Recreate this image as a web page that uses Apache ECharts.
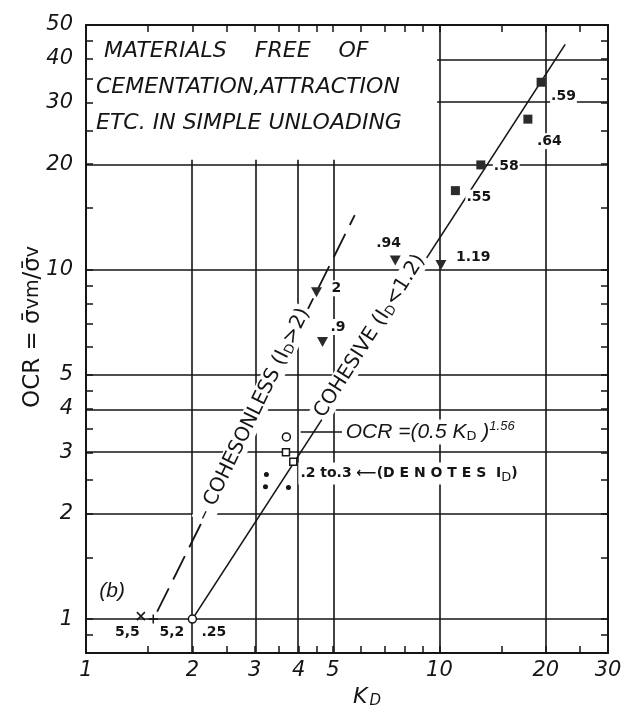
<!DOCTYPE html>
<html><head><meta charset="utf-8">
<script src="https://cdn.jsdelivr.net/npm/echarts@6/dist/echarts.min.js"></script>
<style>html,body{margin:0;padding:0;background:#fff}#c{width:625px;height:705px}</style>
</head><body><div id="c"></div>
<script>
// ---- values (log-log chart) ----
const xTickLabels = [1, 2, 3, 4, 5, 10, 20, 30];
const yTickLabels = [1, 2, 3, 4, 5, 10, 20, 30, 40, 50];
const xTicks = [1.5, 2, 2.5, 3, 3.5, 4, 4.5, 5, 6, 7, 8, 9, 10, 15, 20, 25];
const yTicks = [0.9, 1, 1.5, 2, 2.5, 3, 3.5, 4, 4.5, 5, 6, 7, 8, 9, 10, 15, 20, 25, 30, 35, 40, 45];
const xGridValues = [2, 3, 4, 5, 10, 20];
const yGridValues = [1, 2, 3, 4, 5, 10, 20, 30, 40];

const squareKd = [11.1, 13.1, 17.8, 19.4];
const squareOcr = [16.8, 19.9, 26.9, 34.3];
const squareLabels = ['.55', '.58', '.64', '.59'];

const triangleKd = [4.49, 4.67, 7.5, 10.1];
const triangleOcr = [8.6, 6.2, 10.6, 10.3];
const triangleLabels = ['2', '.9', '.94', '1.19'];

const openCircleKd = [2, 3.69];
const openCircleOcr = [1, 3.32];
const openSquareKd = [3.68, 3.86];
const openSquareOcr = [3.0, 2.82];
const dotKd = [3.24, 3.22, 3.74];
const dotOcr = [2.59, 2.39, 2.38];
const crossKd = [1.43];
const crossOcr = [1.02];
const plusKd = [1.55];
const plusOcr = [1.0];

const fitKd = [2, 22.7];          // OCR = (0.5 KD)^1.56
const fitOcr = [1, 44];
const cohesionlessKd = [1.59, 5.76];
const cohesionlessOcr = [1.05, 14.3];

// ---- build ----
const L = v => Math.log10(v);
const pts = (xs, ys) => xs.map((x, i) => [L(x), L(ys[i])]);
const INK = '#151515';
const FONT = 'Liberation Sans';
const DV = 'DejaVu Sans';
const fmtPow = v => String(Math.round(Math.pow(10, v)));

const squareOffsets = [[10, 7], [12, 1], [8, 22], [9, 14]];
const triangleOffsets = [[14, -4], [7, -15], [-20, -17], [14, -8]];

function labelled(xs, ys, names, offsets) {
  return xs.map((x, i) => ({
    value: [L(x), L(ys[i])], name: names[i],
    label: { offset: offsets[i] }
  }));
}

const pointLabel = {
  show: true, position: 'inside', align: 'left', formatter: '{b}',
  fontFamily: DV, fontSize: 14, fontWeight: 'bold', color: INK,
  backgroundColor: '#fff', padding: [1, 1]
};

const notes = [
  { value: [L(2.98), L(3.85)], label: { rotate: 64, align: 'center',
      formatter: '{t|– COHESONLESS (I}{s|D}{t|>2)}' } },
  { value: [L(6.36), L(6.45)], label: { rotate: 57.5, align: 'center',
      formatter: '{t|COHESIVE (I}{s|D}{t|<1.2)}' } },
  { value: [L(5.36), L(3.43)], label: { align: 'left',
      formatter: '{f|OCR =(0.5 K}{s|D}{f| )}{p|1.56}' } },
  { value: [L(3.99), L(2.61)], label: { align: 'left',
      formatter: '{d|.2 to.3 ⟵(D E N O T E S  I}{s|D}{d|)}' } },
  { value: [L(1.186), L(1.20)], label: { align: 'center', formatter: '{f|(b)}' } },
  { value: [L(1.31), L(0.918)], label: { align: 'center', formatter: '{d|5,5}' } },
  { value: [L(1.75), L(0.918)], label: { align: 'center', formatter: '{d|5,2}' } },
  { value: [L(2.30), L(0.918)], label: { align: 'center', formatter: '{d|.25}' } }
];

const axisBase = {
  type: 'value', z: 10,
  axisLine: { show: true, onZero: false, lineStyle: { color: INK, width: 2 } },
  splitLine: { show: false }
};
const tickLabelStyle = { fontFamily: DV, fontStyle: 'italic', fontSize: 21, color: INK };

const option = {
  backgroundColor: '#fff',
  animation: false,
  grid: { left: 86, right: 17, top: 25, bottom: 52, containLabel: false, outerBoundsMode: 'none' },
  xAxis: [
    Object.assign({}, axisBase, {
      position: 'bottom', min: 0, max: L(30),
      axisTick: { show: true, inside: true, length: 7, lineStyle: { color: INK, width: 1.5 }, customValues: xTicks.map(L) },
      axisLabel: Object.assign({ customValues: xTickLabels.map(L), formatter: fmtPow, margin: 7 }, tickLabelStyle),
      name: '{k|K}{s|D}', nameLocation: 'middle', nameGap: 27,
      nameTextStyle: { padding: [0, 0, 0, 40], rich: { k: { fontFamily: DV, fontStyle: 'italic', fontSize: 22, color: INK }, s: { fontFamily: DV, fontStyle: 'italic', fontSize: 15, color: INK, padding: [8, 0, 0, 2] } } }
    }),
    Object.assign({}, axisBase, {
      position: 'top', min: 0, max: L(30),
      axisTick: { show: true, inside: true, length: 7, lineStyle: { color: INK, width: 1.5 }, customValues: xTicks.map(L) },
      axisLabel: { show: false }
    })
  ],
  yAxis: [
    Object.assign({}, axisBase, {
      position: 'left', min: L(0.8), max: L(50),
      axisTick: { show: true, inside: true, length: 7, lineStyle: { color: INK, width: 1.5 }, customValues: yTicks.map(L) },
      axisLabel: Object.assign({ customValues: yTickLabels.map(L), formatter: fmtPow, margin: 13 }, tickLabelStyle),
      name: '{a|OCR = σ̄}{s|vm}{a|/σ̄}{s|v}', nameLocation: 'middle', nameRotate: 90, nameGap: 41,
      nameMoveOverlap: false,
      nameTextStyle: { padding: [0, 0, 0, 24], rich: { a: { fontFamily: DV, fontSize: 23, color: INK }, s: { fontFamily: DV, fontSize: 19, color: INK } } }
    }),
    Object.assign({}, axisBase, {
      position: 'right', min: L(0.8), max: L(50),
      axisTick: { show: true, inside: true, length: 7, lineStyle: { color: INK, width: 1.5 }, customValues: yTicks.map(L) },
      axisLabel: { show: false }
    })
  ],
  series: [
    { // grid lines
      type: 'scatter', data: [], z: 1, silent: true,
      markLine: {
        z: 1, silent: true, symbol: 'none', animation: false,
        lineStyle: { color: INK, width: 1.6, type: 'solid', opacity: 1 }, label: { show: false },
        emphasis: { disabled: true },
        data: xGridValues.map(v => ({ xAxis: L(v) })).concat(yGridValues.map(v => ({ yAxis: L(v) })))
      }
    },
    { // note box
      type: 'scatter', data: [], z: 2, silent: true,
      markArea: {
        z: 2, silent: true, itemStyle: { color: '#fff', opacity: 1 },
        emphasis: { disabled: true },
        label: {
          show: true, position: 'insideTopLeft', distance: 0, offset: [10, 8],
          formatter: '{i|MATERIALS    FREE    OF}\n{n|CEMENTATION,ATTRACTION}\n{n|ETC. IN SIMPLE UNLOADING}',
          rich: {
            i: { fontFamily: DV, fontStyle: 'italic', fontSize: 22, lineHeight: 36, color: INK, padding: [0, 0, 0, 8] },
            n: { fontFamily: DV, fontStyle: 'italic', fontSize: 22, lineHeight: 36, color: INK }
          }
        },
        data: [[{ coord: [L(1), L(20.6)] }, { coord: [L(9.85), L(50)] }]]
      }
    },
    { type: 'line', name: 'fit', data: pts(fitKd, fitOcr), z: 3, symbol: 'none',
      lineStyle: { color: INK, width: 1.6 } },
    { type: 'line', name: 'cohesionless', data: pts(cohesionlessKd, cohesionlessOcr), z: 3, symbol: 'none',
      lineStyle: { color: INK, width: 1.8, type: [26, 10] } },
    { type: 'line', name: 'leader', data: pts([4.05, 5.3], [3.43, 3.43]), z: 3, symbol: 'none',
      lineStyle: { color: INK, width: 1.5 } },
    { type: 'scatter', name: 'notes', data: notes, z: 4, symbolSize: 0, silent: true,
      itemStyle: { opacity: 1 },
      label: { show: true, position: 'inside', backgroundColor: '#fff', padding: [0, 2],
        rich: {
          t: { fontFamily: DV, fontSize: 20, color: INK },
          s: { fontFamily: DV, fontSize: 13, color: INK, padding: [9, 0, 0, 0] },
          p: { fontFamily: FONT, fontSize: 13, fontStyle: 'italic', color: INK, padding: [0, 0, 12, 0] },
          f: { fontFamily: FONT, fontSize: 21, fontStyle: 'italic', color: INK },
          d: { fontFamily: DV, fontSize: 14, fontWeight: 'bold', color: INK }
        } } },
    { type: 'scatter', name: 'squares', z: 5, symbol: 'rect', symbolSize: 9,
      itemStyle: { color: '#2b2b2b', opacity: 1 },
      data: labelled(squareKd, squareOcr, squareLabels, squareOffsets), label: pointLabel },
    { type: 'scatter', name: 'triangles', z: 5, symbol: 'triangle', symbolRotate: 180, symbolSize: [11, 10],
      itemStyle: { color: '#2b2b2b', opacity: 1 },
      data: labelled(triangleKd, triangleOcr, triangleLabels, triangleOffsets), label: pointLabel },
    { type: 'scatter', name: 'openCircles', z: 5, symbol: 'circle', symbolSize: 8,
      itemStyle: { color: '#fff', borderColor: INK, borderWidth: 1.5, opacity: 1 },
      data: pts(openCircleKd, openCircleOcr) },
    { type: 'scatter', name: 'openSquares', z: 5, symbol: 'rect', symbolSize: 7,
      itemStyle: { color: '#fff', borderColor: INK, borderWidth: 1.5, opacity: 1 },
      data: pts(openSquareKd, openSquareOcr) },
    { type: 'scatter', name: 'dots', z: 5, symbol: 'circle', symbolSize: 5,
      itemStyle: { color: INK, opacity: 1 }, data: pts(dotKd, dotOcr) },
    { type: 'scatter', name: 'cross', z: 5, symbol: 'path://M0,0L10,10M10,0L0,10', symbolSize: 8,
      itemStyle: { color: 'transparent', borderColor: INK, borderWidth: 1.5, opacity: 1 }, data: pts(crossKd, crossOcr) },
    { type: 'scatter', name: 'plus', z: 5, symbol: 'path://M5,0L5,10M0,5L10,5', symbolSize: 9,
      itemStyle: { color: 'transparent', borderColor: INK, borderWidth: 1.5, opacity: 1 }, data: pts(plusKd, plusOcr) }
  ]
};

const chart = echarts.init(document.getElementById('c'), null, { renderer: 'canvas' });
chart.setOption(option);
</script>
</body></html>
